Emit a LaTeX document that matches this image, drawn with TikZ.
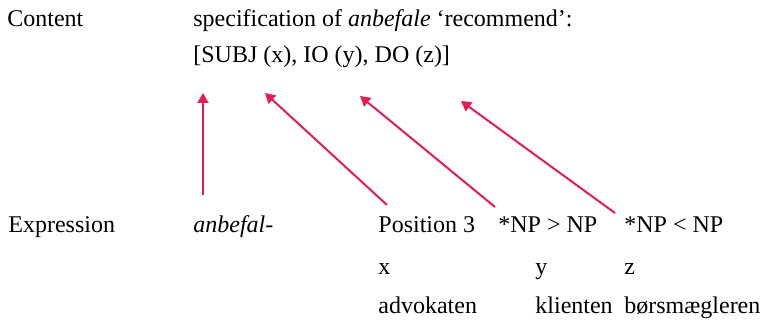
\documentclass[tikz,border=0pt]{standalone}
\usepackage{fontspec}
\setmainfont{Liberation Serif}
\usepackage{tikz}
\usetikzlibrary{arrows.meta}

\definecolor{argred}{RGB}{232,28,84}

\tikzset{
  lbl/.style={anchor=base west, inner sep=0pt, font=\fontsize{12}{14}\selectfont},
  link/.style={draw=argred, line width=1pt, -{Triangle[length=5pt,width=5.5pt]}}
}

\begin{document}
\begin{tikzpicture}[x=0.5pt, y=-0.5pt]
\useasboundingbox (0,0) rectangle (764,320);

% content level
\node[lbl] (content) at (7,27) {Content};
\node[lbl] (spec) at (193,27) {specification of \textit{anbefale} `recommend':};
\node[lbl] (frame) at (193,63) {[SUBJ (x), IO (y), DO (z)]};

% expression level
\node[lbl] (expr) at (8,232) {Expression};
\node[lbl] (stem) at (193,232) {\textit{anbefal-}};
\node[lbl] (pos) at (378,232) {Position 3};
\node[lbl] (iord) at (498,232) {*NP > NP};
\node[lbl] (dord) at (624,232) {*NP < NP};

\node[lbl] (xvar) at (378,274) {x};
\node[lbl] (yvar) at (535,274) {y};
\node[lbl] (zvar) at (624,274) {z};

\node[lbl] (advok) at (378,313) {advokaten};
\node[lbl] (klient) at (535,313) {klienten};
\node[lbl] (boers) at (624,313) {børsmægleren};

% arrow ends
\coordinate (subjtip) at (203,93);
\coordinate (iotip) at (265,93);
\coordinate (dotip) at (360,96);
\coordinate (dotip2) at (461,101);

\coordinate (stemtop) at (203,195);
\coordinate (postop) at (387,205);
\coordinate (iordtop) at (495,207);
\coordinate (dordtop) at (615,213);

\draw[link] (stemtop) -- (subjtip);
\draw[link] (postop) -- (iotip);
\draw[link] (iordtop) -- (dotip);
\draw[link] (dordtop) -- (dotip2);

\end{tikzpicture}
\end{document}
